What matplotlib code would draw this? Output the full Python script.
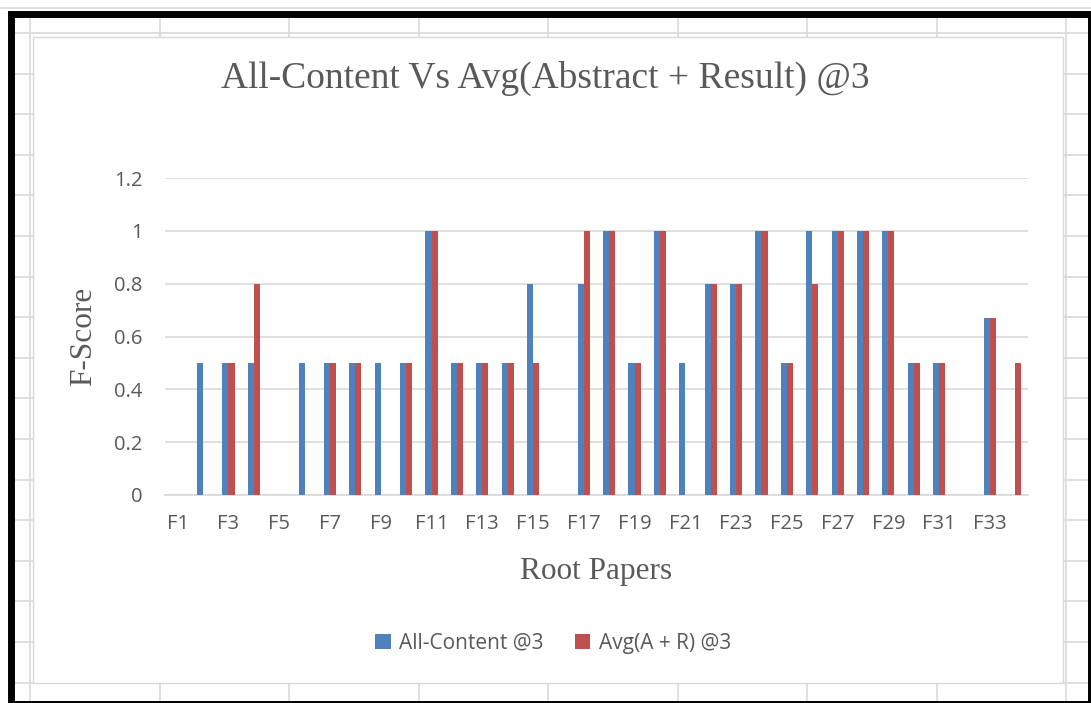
import numpy as np
import matplotlib
matplotlib.use("Agg")
import matplotlib.pyplot as plt
from matplotlib.patches import Rectangle
from matplotlib.lines import Line2D

# data
papers = ["F%d" % i for i in range(1, 35)]
all_content = [0, 0.5, 0.5, 0.5, 0, 0.5, 0.5, 0.5, 0.5, 0.5,
               1, 0.5, 0.5, 0.5, 0.8, 0, 0.8, 1, 0.5, 1,
               0.5, 0.8, 0.8, 1, 0.5, 1, 1, 1, 1, 0.5,
               0.5, 0, 0.67, 0]
avg_ar = [0, 0, 0.5, 0.8, 0, 0, 0.5, 0.5, 0, 0.5,
          1, 0.5, 0.5, 0.5, 0.5, 0, 1, 1, 0.5, 1,
          0, 0.8, 0.8, 1, 0.5, 0.8, 1, 1, 1, 0.5,
          0.5, 0, 0.67, 0.5]
y_ticks = [0, 0.2, 0.4, 0.6, 0.8, 1, 1.2]
y_tick_labels = ["0", "0.2", "0.4", "0.6", "0.8", "1", "1.2"]

W, H = 1091, 703
BLUE = "#4F81BD"
RED = "#C0504D"
GRID = "#D9D9D9"
TXT = "#595959"

fig = plt.figure(figsize=(W / 100, H / 100), dpi=100)
fig.patch.set_facecolor("white")


def fx(x):
    return x / W


def fy(y):
    return 1 - y / H


# spreadsheet cells behind the chart
for k in range(17):
    yy = 33 + 40.6 * k
    fig.add_artist(Line2D([fx(14), fx(1088)], [fy(yy), fy(yy)], color=GRID, lw=1.2, zorder=-10))
for k in range(9):
    xx = 30 + 129.5 * k
    fig.add_artist(Line2D([fx(xx), fx(xx)], [fy(14), fy(700)], color=GRID, lw=1.2, zorder=-10))
fig.add_artist(Line2D([0, 1], [fy(8), fy(8)], color=GRID, lw=1.2, zorder=-10))

# chart area
fig.add_artist(Rectangle((fx(33), fy(683)), fx(1063) - fx(33), fy(36.5) - fy(683),
                         facecolor="white", edgecolor=GRID, lw=1.0, zorder=-5))

# black frame of the screenshot
fig.add_artist(Rectangle((fx(10.5), fy(703.5)), fx(1090.5) - fx(10.5), fy(13.5) - fy(703.5),
                         fill=False, edgecolor="black", lw=5.0, zorder=20))

ax = fig.add_axes([fx(165), fy(495), fx(1028) - fx(165), fy(178) - fy(495)])
ax.set_facecolor("white")

x = np.arange(len(papers))
w = 0.24
ax.bar(x - w / 2, all_content, w, color=BLUE, label="All-Content @3", zorder=3)
ax.bar(x + w / 2, avg_ar, w, color=RED, label="Avg(A + R) @3", zorder=3)

ax.set_xlim(-0.5, len(papers) - 0.5)
ax.set_ylim(0, 1.2)
ax.set_yticks(y_ticks)
ax.set_yticklabels(y_tick_labels)
ax.set_xticks(x[::2])
ax.set_xticklabels(papers[::2])
ax.yaxis.grid(True, color=GRID, lw=1.2)
ax.set_axisbelow(True)
for s in ["top", "right", "left"]:
    ax.spines[s].set_visible(False)
ax.spines["bottom"].set_color(GRID)
ax.spines["bottom"].set_linewidth(1.2)
ax.tick_params(axis="both", length=0, colors=TXT, labelsize=14.5)
ax.tick_params(axis="x", pad=14)
ax.tick_params(axis="y", pad=16)
for lab in ax.get_xticklabels() + ax.get_yticklabels():
    lab.set_fontfamily("Open Sans")

ax.set_xlabel("Root Papers", fontfamily="Liberation Serif", fontsize=22.5, color=TXT, labelpad=16)
ax.set_ylabel("F-Score", fontfamily="Liberation Serif", fontsize=22.5, color=TXT, labelpad=12)

fig.text(0.5, fy(78), "All-Content Vs Avg(Abstract + Result) @3", ha="center", va="center",
         fontfamily="Liberation Serif", fontsize=27, color=TXT)

leg = fig.legend(loc="center", bbox_to_anchor=(fx(553), fy(643)), ncol=2, frameon=False,
                 handlelength=0.75, handleheight=0.75, handletextpad=0.4, columnspacing=1.5,
                 prop={"family": "Open Sans", "size": 15})
for t in leg.get_texts():
    t.set_color(TXT)

fig.savefig("out.png", dpi=100)
